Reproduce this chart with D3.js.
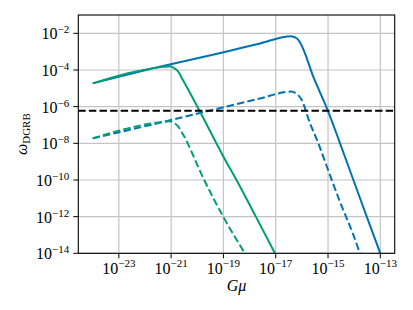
<!DOCTYPE html>
<html lang="en">
<head>
<meta charset="UTF-8">
<title>omega DGRB</title>
<script src="https://cdn.jsdelivr.net/npm/d3@7"></script>
<style>
body{margin:0;background:#fff;}
text{font-family:"Liberation Serif","DejaVu Serif",serif;fill:#000;}
</style>
</head>
<body>
<script>
// values, as log10
var blueSolidX  = [-24, -21.81, -18.75, -17.6, -16.42, -16.2, -16.05, -15.54, -15.0, -14.54, -14.03, -13.52, -13.0];
var blueSolidY  = [-4.73, -3.95, -2.95, -2.55, -2.16, -2.27, -2.55, -4.45, -6.24, -8.0, -10.0, -12.0, -14.0];
var blueDashX   = [-24, -21.0, -18.75, -17.6, -16.42, -16.2, -16.02, -15.69, -15.37, -15.05, -14.54, -14.03, -13.78];
var blueDashY   = [-7.73, -6.73, -5.95, -5.55, -5.18, -5.3, -5.6, -6.9, -8.0, -9.25, -11.2, -13.0, -14.0];
var greenSolidX = [-24, -21.3, -21.05, -20.9, -20.75, -20.55, -19.93, -19.01, -18.5, -17.76, -17.03];
var greenSolidY = [-4.73, -3.83, -3.8, -3.88, -4.05, -4.55, -6.18, -8.7, -10.0, -12.0, -14.0];
var greenDashX  = [-24, -21.3, -21.05, -20.9, -20.75, -20.55, -19.77, -19.01, -18.18];
var greenDashY  = [-7.73, -6.83, -6.8, -6.88, -7.05, -7.5, -9.9, -12.0, -14.0];
var dgrbBound   = 6.0e-7;

var xTicks = [-23, -21, -19, -17, -15, -13];
var yTicks = [-14, -12, -10, -8, -6, -4, -2];

var width = 413, height = 310;
var margin = {left: 78.3, right: 18.3, top: 15, bottom: 56.7};

var svg = d3.select("body").append("svg")
	.attr("width", width)
	.attr("height", height);

var x = d3.scaleLog()
	.domain([Math.pow(10, -24.55), Math.pow(10, -12.45)])
	.range([margin.left, width - margin.right]);
var y = d3.scaleLog()
	.domain([1e-14, 1e-1])
	.range([height - margin.bottom, margin.top]);

var x0 = margin.left, x1 = width - margin.right;
var y0 = height - margin.bottom, y1 = margin.top;

// grid
svg.append("g").selectAll("line").data(xTicks).enter().append("line")
	.attr("x1", d => x(Math.pow(10, d))).attr("x2", d => x(Math.pow(10, d)))
	.attr("y1", y0).attr("y2", y1)
	.attr("stroke", "#c4c4c4").attr("stroke-width", 1.2);
svg.append("g").selectAll("line").data(yTicks).enter().append("line")
	.attr("y1", d => y(Math.pow(10, d))).attr("y2", d => y(Math.pow(10, d)))
	.attr("x1", x0).attr("x2", x1)
	.attr("stroke", "#c4c4c4").attr("stroke-width", 1.2);

svg.append("clipPath").attr("id", "clip")
	.append("rect").attr("x", x0).attr("y", y1).attr("width", x1 - x0).attr("height", y0 - y1);

var line = d3.line()
	.x(d => x(Math.pow(10, d[0])))
	.y(d => y(Math.pow(10, d[1])))
	.curve(d3.curveMonotoneX);

function draw(xs, ys, color, dash){
	var pts = xs.map((v, i) => [v, ys[i]]);
	svg.append("path")
		.attr("clip-path", "url(#clip)")
		.attr("d", line(pts))
		.attr("fill", "none")
		.attr("stroke", color)
		.attr("stroke-width", 2)
		.attr("stroke-dasharray", dash ? "7.4,3.2" : null);
}
draw(blueSolidX, blueSolidY, "#0072B2", false);
draw(blueDashX, blueDashY, "#0072B2", true);
draw(greenSolidX, greenSolidY, "#009E73", false);
draw(greenDashX, greenDashY, "#009E73", true);

// DGRB bound
svg.append("line")
	.attr("x1", x0).attr("x2", x1)
	.attr("y1", y(dgrbBound)).attr("y2", y(dgrbBound))
	.attr("stroke", "#000").attr("stroke-width", 2)
	.attr("stroke-dasharray", "7.4,3.2");

// frame
svg.append("rect").attr("x", x0).attr("y", y1).attr("width", x1 - x0).attr("height", y0 - y1)
	.attr("fill", "none").attr("stroke", "#000").attr("stroke-width", 1.1);

// ticks + labels
xTicks.forEach(function(d){
	var px = x(Math.pow(10, d));
	svg.append("line").attr("x1", px).attr("x2", px).attr("y1", y0).attr("y2", y0 + 5)
		.attr("stroke", "#000").attr("stroke-width", 1);
	var t = svg.append("text").attr("x", px).attr("y", y0 + 21).attr("text-anchor", "middle")
		.style("font-size", "16px");
	t.append("tspan").text("10");
	t.append("tspan").attr("dy", -7).style("font-size", "11px").text("\u2212" + Math.abs(d));
});
yTicks.forEach(function(d){
	var py = y(Math.pow(10, d));
	svg.append("line").attr("x1", x0 - 5).attr("x2", x0).attr("y1", py).attr("y2", py)
		.attr("stroke", "#000").attr("stroke-width", 1);
	var t = svg.append("text").attr("x", x0 - 9).attr("y", py + 6).attr("text-anchor", "end")
		.style("font-size", "16px");
	t.append("tspan").text("10");
	t.append("tspan").attr("dy", -6).style("font-size", "11px").text("\u2212" + Math.abs(d));
});

// axis labels
svg.append("text").attr("x", (x0 + x1) / 2).attr("y", 291).attr("text-anchor", "middle")
	.style("font-size", "16px").style("font-style", "italic").text("G\u03bc");

var yl = svg.append("text").attr("text-anchor", "middle")
	.attr("transform", "translate(27," + ((y0 + y1) / 2) + ") rotate(-90)")
	.style("font-size", "16px");
yl.append("tspan").style("font-style", "italic").text("\u03c9");
yl.append("tspan").attr("dy", 3).style("font-size", "11px").text("DGRB");
</script>
</body>
</html>
